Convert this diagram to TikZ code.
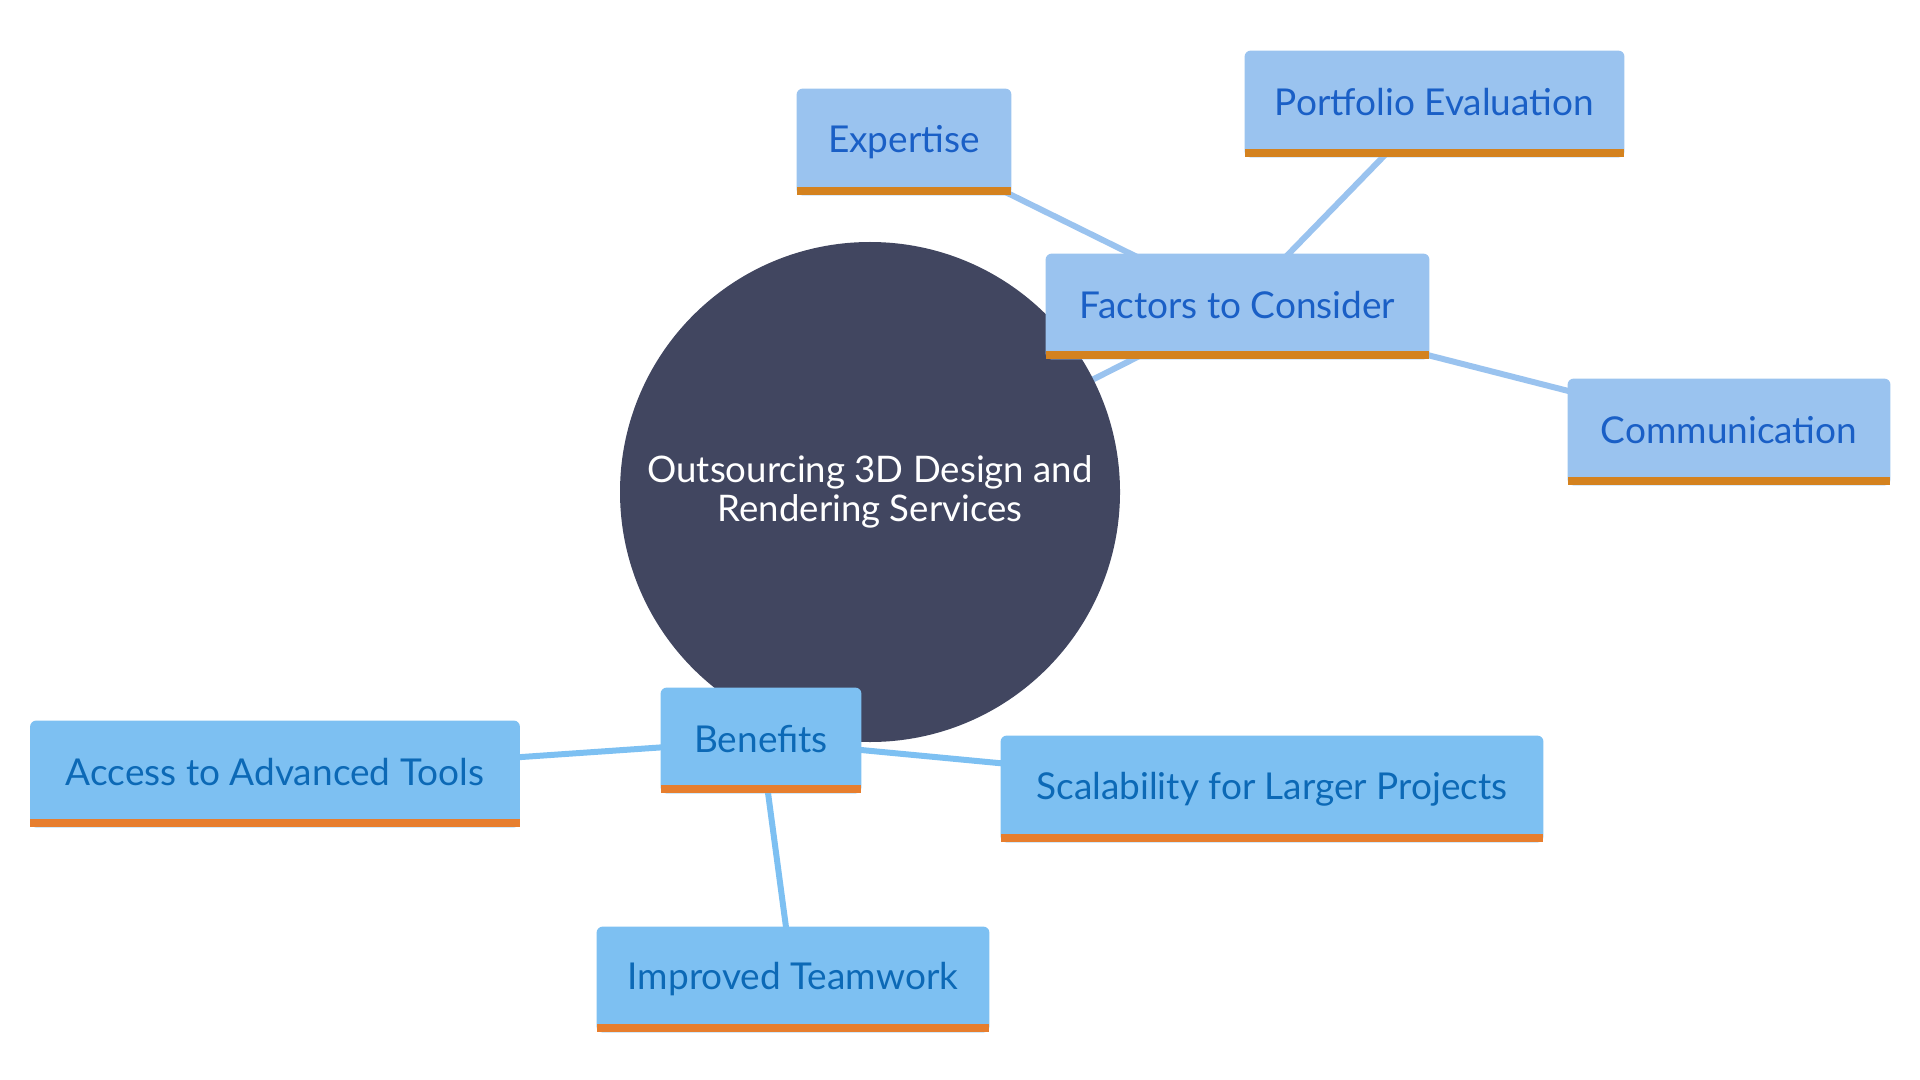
\documentclass[tikz,border=0pt]{standalone}
\usepackage{fontspec}
\setmainfont{Lato}
\definecolor{facfill}{HTML}{9AC3EF}
\definecolor{factext}{HTML}{1A5FC6}
\definecolor{facbar}{HTML}{D4821F}
\definecolor{benfill}{HTML}{7DC0F2}
\definecolor{bentext}{HTML}{0C69B6}
\definecolor{benbar}{HTML}{E77E2E}
\definecolor{rootfill}{HTML}{414660}
\pgfdeclarelayer{edges}
\pgfdeclarelayer{circ}
\pgfdeclarelayer{boxes}
\pgfsetlayers{edges,circ,boxes,main}
\newcommand\mmbg[2]{%
  \begin{pgfonlayer}{boxes}
    \fill[#2fill, rounded corners=3pt] (#1.south west) rectangle (#1.north east);
    \fill[#2fill] (#1.south west) rectangle ([yshift=-20pt]#1.north east);
    \fill[#2bar] (#1.south west) rectangle ([yshift=4pt]#1.south east);
  \end{pgfonlayer}}
\newcommand\mmup[1]{\raisebox{1.8pt}{#1}}
\begin{document}
\begin{tikzpicture}[x=0.5pt,y=-0.5pt,
  mmbox/.style={rectangle, inner sep=0pt, font=\fontsize{18.5}{22}\selectfont},
  fac/.style={mmbox, text=factext},
  ben/.style={mmbox, text=bentext},
  facedge/.style={draw=facfill, line width=3pt},
  benedge/.style={draw=benfill, line width=3pt}]
\useasboundingbox (0,0) rectangle (1920,1080);
\begin{pgfonlayer}{circ}
\node[circle, fill=rootfill, minimum size=250pt, inner sep=0pt, text=white,
  align=center, font=\fontsize{18.3}{19.8}\selectfont] (root) at (870,492)
  {Outsourcing 3D Design and\\Rendering Services};
\end{pgfonlayer}
\node[fac, minimum width=191.5pt, minimum height=52.5pt] (fac) at (1237.5,306.5) {\mmup{Factors to Consider}};
\node[fac, minimum width=107pt, minimum height=53pt] (exp) at (904,142) {\mmup{Expertise}};
\node[fac, minimum width=189.5pt, minimum height=53pt] (port) at (1434.5,104) {\mmup{Portfolio Evaluation}};
\node[fac, minimum width=161pt, minimum height=53pt] (com) at (1729,432) {\mmup{Communication}};
\node[ben, minimum width=100pt, minimum height=52.5pt] (ben) at (761,740.5) {\mmup{Benefits}};
\node[ben, minimum width=244.5pt, minimum height=53pt] (acc) at (275,774) {\mmup{Access to Advanced Tools}};
\node[ben, minimum width=271pt, minimum height=53pt] (sca) at (1272,789) {\mmup{Scalability for Larger Projects}};
\node[ben, minimum width=196pt, minimum height=52.5pt] (imp) at (793,979.5) {\mmup{Improved Teamwork}};
\mmbg{fac}{fac}\mmbg{exp}{fac}\mmbg{port}{fac}\mmbg{com}{fac}
\mmbg{ben}{ben}\mmbg{acc}{ben}\mmbg{sca}{ben}\mmbg{imp}{ben}
\begin{pgfonlayer}{edges}
\draw[facedge] (root.center) -- (fac.center);
\draw[facedge] (fac.center) -- (exp.center);
\draw[facedge] (fac.center) -- (port.center);
\draw[facedge] (fac.center) -- (com.center);
\draw[benedge] (root.center) -- (ben.center);
\draw[benedge] (ben.center) -- (acc.center);
\draw[benedge] (ben.center) -- (sca.center);
\draw[benedge] (ben.center) -- (imp.center);
\end{pgfonlayer}
\end{tikzpicture}
\end{document}
